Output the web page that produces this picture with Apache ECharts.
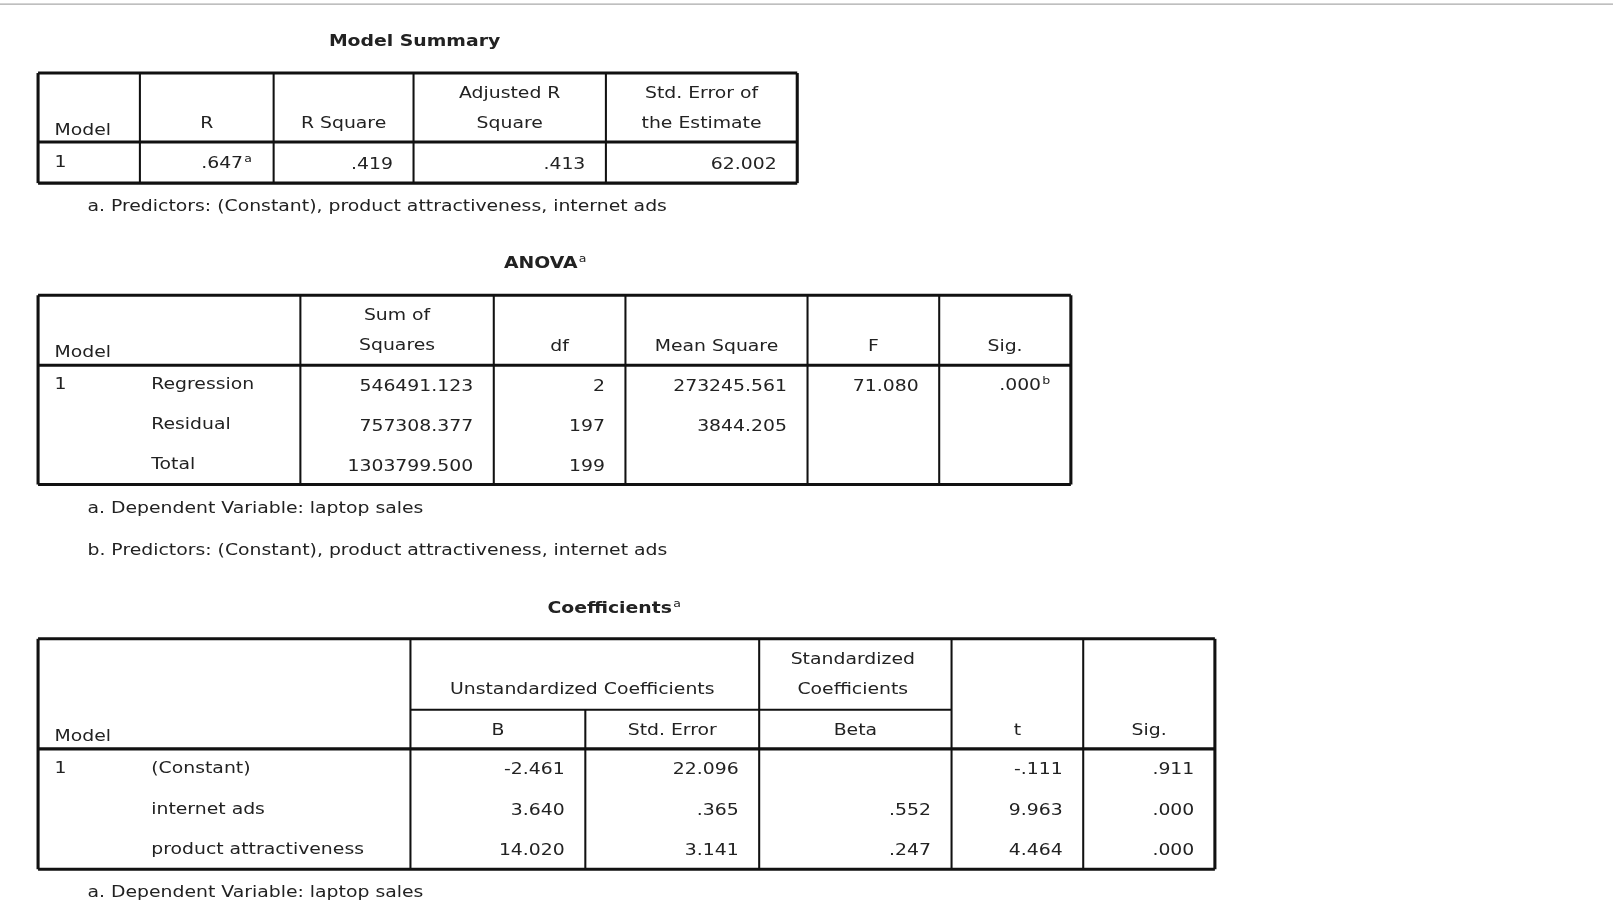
<!DOCTYPE html>
<html><head><meta charset="utf-8">
<script src="https://cdn.jsdelivr.net/npm/echarts@6/dist/echarts.min.js"></script>
<style>html,body{margin:0;background:#fff}#c{width:1613px;height:912px}</style>
</head><body><div id="c"></div>
<script>
// ---- data ----
var summaryHeaders = ['Model', 'R', 'R Square', 'Adjusted R\nSquare', 'Std. Error of\nthe Estimate'];
var summaryRow = ['1', '.647', '.419', '.413', '62.002'];
var anovaHeaders = ['Model', '', 'Sum of\nSquares', 'df', 'Mean Square', 'F', 'Sig.'];
var anovaRows = [
  ['1', 'Regression', '546491.123', '2', '273245.561', '71.080', '.000'],
  ['', 'Residual', '757308.377', '197', '3844.205', '', ''],
  ['', 'Total', '1303799.500', '199', '', '', '']
];
var coefHeaders = ['Model', '', 'B', 'Std. Error', 'Beta', 't', 'Sig.'];
var coefRows = [
  ['1', '(Constant)', '-2.461', '22.096', '', '-.111', '.911'],
  ['', 'internet ads', '3.640', '.365', '.552', '9.963', '.000'],
  ['', 'product attractiveness', '14.020', '3.141', '.247', '4.464', '.000']
];
var footSummary = ['a. Predictors: (Constant), product attractiveness, internet ads'];
var footAnova = ['a. Dependent Variable: laptop sales', 'b. Predictors: (Constant), product attractiveness, internet ads'];
var footCoef = ['a. Dependent Variable: laptop sales'];

var FONT = '15px "DejaVu Sans", sans-serif';
var BOLD = 'bold 15px "DejaVu Sans", sans-serif';
var SX = 1.22;
var COL = '#222';
var els = [];
var supStyle = {font: '10px "DejaVu Sans"', fill: COL, verticalAlign: 'top', padding: [0, 0, 9, 1]};

function txt(x, y, s, align, vAlign, font) {
  els.push({type: 'text', x: x, y: y, scaleX: SX, style: {x: 0, y: 0, text: s, font: font || FONT, fill: COL, align: align || 'left', verticalAlign: vAlign || 'middle', lineHeight: 29}});
}
function supTxt(x, y, s, sup, align, font) {
  var r = {v: {font: font || FONT, fill: COL}, s: supStyle};
  els.push({type: 'text', x: x, y: y, scaleX: SX, style: {x: 0, y: 0, text: '{v|' + s + '}{s|' + sup + '}', rich: r, align: align || 'left', verticalAlign: 'middle'}});
}
function line(x1, y1, x2, y2, w) {
  els.push({type: 'line', shape: {x1: x1, y1: y1, x2: x2, y2: y2}, style: {stroke: '#111', lineWidth: w || 2}});
}
function box(x1, y1, x2, y2) {
  line(x1, y1, x2, y1, 3); line(x1, y2, x2, y2, 3); line(x1, y1, x1, y2, 3); line(x2, y1, x2, y2, 3);
}

// top rule
line(0, 4, 1568, 4, 1);
els[els.length - 1].style.stroke = '#aaa';

// ---- Model Summary ----
var xs1 = [37, 136, 266, 402, 589, 775];
txt(403, 41, 'Model Summary', 'center', 'middle', BOLD);
box(37, 71, 775, 178);
line(37, 138, 775, 138, 3);
for (var i = 1; i < xs1.length - 1; i++) line(xs1[i], 71, xs1[i], 178, 2);
txt(53, 127, summaryHeaders[0]);
for (i = 1; i < summaryHeaders.length; i++) txt((xs1[i] + xs1[i + 1]) / 2, summaryHeaders[i].indexOf('\n') < 0 ? 121 : 106, summaryHeaders[i], 'center');
txt(53, 158, summaryRow[0]);
supTxt(xs1[2] - 21, 159, summaryRow[1], 'a', 'right');
for (i = 2; i < summaryRow.length; i++) txt(xs1[i + 1] - 20, 160, summaryRow[i], 'right');
txt(85, 201, footSummary[0]);

// ---- ANOVA ----
var xs2 = [37, 147, 292, 480, 608, 785, 913, 1041];
supTxt(530, 257, 'ANOVA', 'a', 'center', BOLD);
box(37, 287, 1041, 471);
line(37, 355, 1041, 355, 3);
for (i = 2; i < xs2.length - 1; i++) line(xs2[i], 287, xs2[i], 471, 2);
txt(53, 343, anovaHeaders[0]);
for (i = 2; i < anovaHeaders.length; i++) txt((xs2[i] + xs2[i + 1]) / 2, anovaHeaders[i].indexOf('\n') < 0 ? 337 : 322, anovaHeaders[i], 'center');
anovaRows.forEach(function (r, k) {
  var y = 375 + k * 39;
  txt(53, y - 1, r[0]); txt(147, y - 1, r[1]);
  for (var j = 2; j < r.length; j++) {
    if (!r[j]) continue;
    if (j === 6) supTxt(xs2[j + 1] - 20, y, r[j], 'b', 'right');
    else txt(xs2[j + 1] - 20, y + 1, r[j], 'right');
  }
});
txt(85, 495, footAnova[0]);
txt(85, 536, footAnova[1]);

// ---- Coefficients ----
var xs3 = [37, 147, 399, 569, 738, 925, 1053, 1181];
supTxt(597, 592, 'Coefficients', 'a', 'center', BOLD);
box(37, 621, 1181, 845);
line(37, 728, 1181, 728, 3);
line(399, 690, 925, 690, 2);
for (i = 2; i < xs3.length - 1; i++) line(xs3[i], i === 3 ? 690 : 621, xs3[i], 845, 2);
txt(566, 671, 'Unstandardized Coefficients', 'center');
txt(829, 656, 'Standardized\nCoefficients', 'center');
txt(53, 716, coefHeaders[0]);
for (i = 2; i < coefHeaders.length; i++) txt((xs3[i] + xs3[i + 1]) / 2, 711, coefHeaders[i], 'center');
coefRows.forEach(function (r, k) {
  var y = 748 + k * 39;
  txt(53, y, r[0]); txt(147, y, r[1]);
  for (var j = 2; j < r.length; j++) if (r[j]) txt(xs3[j + 1] - 20, y + 1, r[j], 'right');
});
txt(85, 868, footCoef[0]);

var K = 1613 / 1568;
var chart = echarts.init(document.getElementById('c'));
chart.setOption({backgroundColor: '#fff', graphic: {elements: [{type: 'group', scaleX: K, scaleY: K, children: els}]}});
</script>
</body></html>
